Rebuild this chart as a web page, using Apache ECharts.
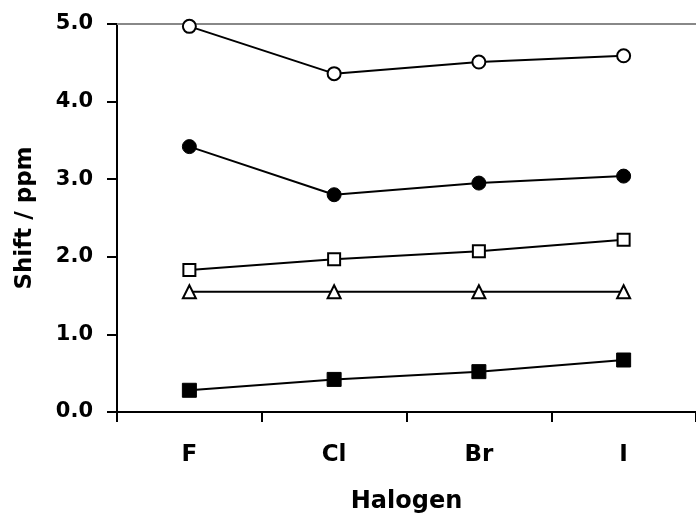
<!DOCTYPE html>
<html><head><meta charset="utf-8">
<script src="https://cdn.jsdelivr.net/npm/echarts@6/dist/echarts.min.js"></script>
<style>html,body{margin:0;padding:0;background:#fff}#c{width:696px;height:521px}</style>
</head><body><div id="c"></div>
<script>
var categories = ['F', 'Cl', 'Br', 'I'];
var openCircle = [4.97, 4.36, 4.51, 4.59];
var filledCircle = [3.42, 2.80, 2.95, 3.04];
var openSquare = [1.83, 1.97, 2.07, 2.22];
var openTriangle = [1.55, 1.55, 1.55, 1.55];
var filledSquare = [0.28, 0.42, 0.52, 0.67];
var yTicks = [0, 1, 2, 3, 4, 5];

var font = '"DejaVu Sans", sans-serif';
function mk(data, symbol, size, fill, bw) {
  return {
    type: 'line', data: data, symbol: symbol, symbolSize: size,
    showAllSymbol: true,
    lineStyle: { color: '#000', width: 2 },
    itemStyle: { color: fill, borderColor: '#000', borderWidth: bw },
    z: 3
  };
}
var chart = echarts.init(document.getElementById('c'));
chart.setOption({
  animation: false,
  grid: { left: 117, right: -7, top: 24, bottom: 109 },
  xAxis: [{
    type: 'category', data: categories, boundaryGap: true,
    name: 'Halogen', nameLocation: 'middle', nameGap: 78,
    nameTextStyle: { fontFamily: font, fontWeight: 'bold', fontSize: 24, color: '#000' },
    axisLine: { lineStyle: { color: '#000', width: 2 } },
    axisTick: { show: true, length: 10, lineStyle: { color: '#000', width: 2 } },
    axisLabel: { margin: 32, fontFamily: font, fontWeight: 'bold', fontSize: 23, color: '#000' }
  }, {
    type: 'category', data: categories, position: 'top',
    axisLine: { show: true, lineStyle: { color: '#888', width: 2 } },
    axisTick: { show: false }, axisLabel: { show: false }
  }],
  yAxis: {
    type: 'value', min: yTicks[0], max: yTicks[yTicks.length - 1], interval: 1,
    name: 'Shift / ppm', nameLocation: 'middle', nameGap: 80,
    nameTextStyle: { fontFamily: font, fontWeight: 'bold', fontSize: 23, color: '#000' },
    axisLine: { show: true, lineStyle: { color: '#000', width: 2 } },
    axisTick: { show: true, length: 10, lineStyle: { color: '#000', width: 2 } },
    splitLine: { show: false },
    axisLabel: { margin: 24, fontFamily: font, fontWeight: 'bold', fontSize: 21, color: '#000',
      formatter: function (v) { return v.toFixed(1); } }
  },
  series: [
    mk(openCircle, 'circle', 13, '#fff', 2),
    mk(filledCircle, 'circle', 14, '#000', 1),
    mk(openSquare, 'rect', 12, '#fff', 2),
    mk(openTriangle, 'triangle', 13, '#fff', 2),
    mk(filledSquare, 'rect', 14, '#000', 1)
  ]
});
</script></body></html>
